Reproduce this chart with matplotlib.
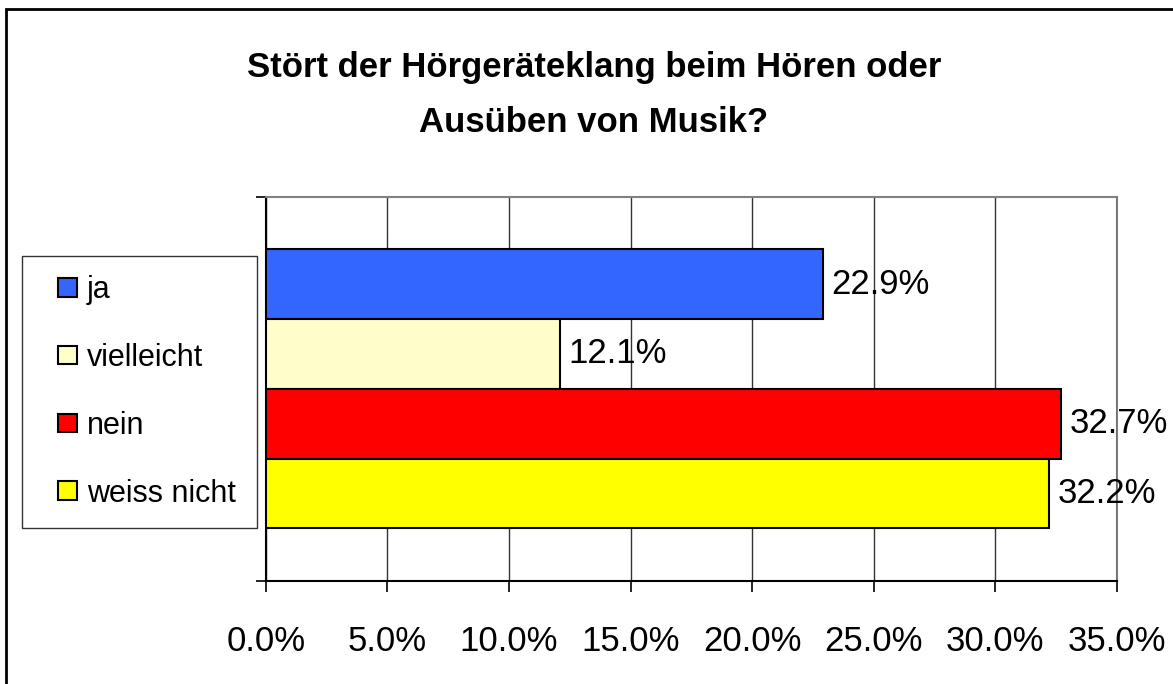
import matplotlib.pyplot as plt
from matplotlib.patches import Rectangle
from matplotlib.legend_handler import HandlerPatch
from matplotlib.ticker import FuncFormatter

plt.rcParams['font.family'] = ['Liberation Sans', 'DejaVu Sans']

categories = ["ja", "vielleicht", "nein", "weiss nicht"]
values = [22.9, 12.1, 32.7, 32.2]
colors = ["#3366FF", "#FFFFCC", "#FF0000", "#FFFF00"]
xticks = [0, 5, 10, 15, 20, 25, 30, 35]
title = "Stört der Hörgeräteklang beim Hören oder\nAusüben von Musik?"

W, H = 1173, 684
fig = plt.figure(figsize=(W / 100, H / 100), dpi=100)
ax = fig.add_axes([265.7 / W, (H - 580.7) / H, (1117 - 265.7) / W, (580.7 - 197) / H])

pos = list(range(len(values)))
bars = ax.barh(pos, values, height=1.0, color=colors, edgecolor="black",
               linewidth=1.5, zorder=3)

for p, v in zip(pos, values):
    ax.annotate(f"{v:.1f}%", xy=(v, p), xytext=(6, 0), textcoords="offset points",
                va="center", ha="left", fontsize=25, zorder=5)

ax.set_xlim(0, 35)
ax.set_ylim(4.25, -1.25)
ax.set_xticks(xticks)
ax.xaxis.set_major_formatter(FuncFormatter(lambda x, _: f"{x:.1f}%"))
ax.set_yticks([-1.25, 4.25])
ax.set_yticklabels([])
ax.tick_params(axis="x", length=8, width=1.2, pad=24, labelsize=25)
ax.tick_params(axis="y", length=7, width=1.2)
ax.grid(axis="x", color="#333333", linewidth=1, zorder=0)

for s in ["left", "bottom"]:
    ax.spines[s].set_color("black")
    ax.spines[s].set_linewidth(1.5)
for s in ["top", "right"]:
    ax.spines[s].set_color("#808080")
    ax.spines[s].set_linewidth(1.5)
ax.spines["right"].set_zorder(1)


# small square key pushed to the right end of the handle box
def square_key(legend, orig_handle, xdescent, ydescent, width, height, fontsize):
    return Rectangle((-xdescent + width - height, -ydescent), height, height)


leg = ax.legend(bars, categories, loc="upper left",
                bbox_to_anchor=(22 / W, 1 - 524 / H, 235 / W, 268 / H),
                bbox_transform=fig.transFigure, mode="expand",
                fontsize=22, frameon=True, fancybox=False, borderpad=0.62,
                labelspacing=1.24, handlelength=1.17, handleheight=0.57,
                handletextpad=0.33, borderaxespad=0,
                handler_map={Rectangle: HandlerPatch(patch_func=square_key)})
leg.get_frame().set_edgecolor("black")
leg.get_frame().set_linewidth(1)

fig.text(594 / W, 1 - 95 / H, title, ha="center", va="center", fontsize=25,
         fontweight="bold", linespacing=1.85)

fig.patches.append(Rectangle((6 / W, -0.1), 1.2, 1 - 9 / H + 0.1, fill=False,
                             edgecolor="black", linewidth=2,
                             transform=fig.transFigure, figure=fig))

fig.savefig("out.png", dpi=100)
